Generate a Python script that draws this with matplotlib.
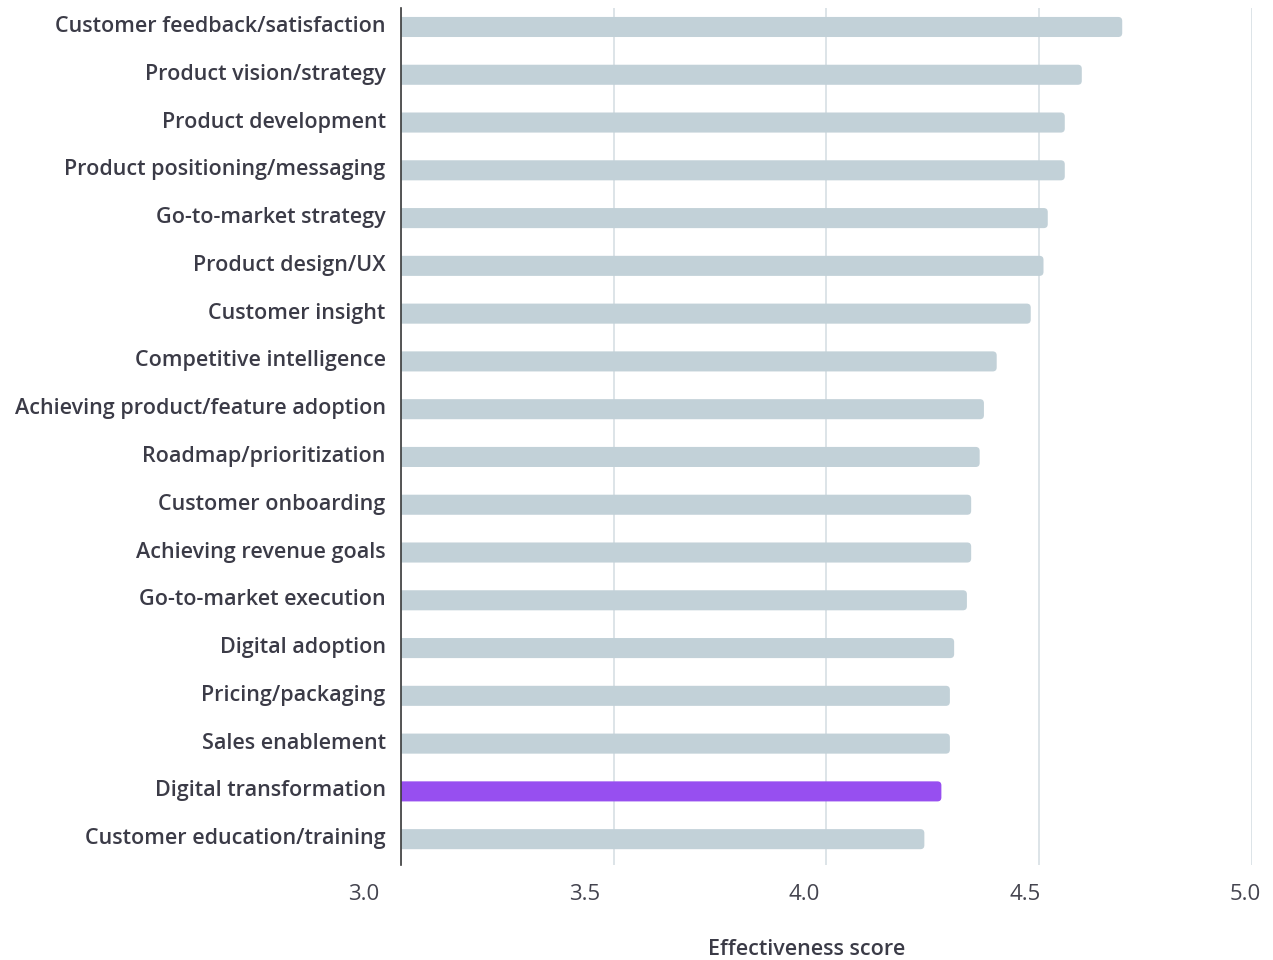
import matplotlib.pyplot as plt
from matplotlib.patches import FancyBboxPatch
from matplotlib.transforms import ScaledTranslation

categories = [
    "Customer feedback/satisfaction",
    "Product vision/strategy",
    "Product development",
    "Product positioning/messaging",
    "Go-to-market strategy",
    "Product design/UX",
    "Customer insight",
    "Competitive intelligence",
    "Achieving product/feature adoption",
    "Roadmap/prioritization",
    "Customer onboarding",
    "Achieving revenue goals",
    "Go-to-market execution",
    "Digital adoption",
    "Pricing/packaging",
    "Sales enablement",
    "Digital transformation",
    "Customer education/training",
]
scores = [4.695, 4.60, 4.56, 4.56, 4.52, 4.51, 4.48, 4.40, 4.37,
          4.36, 4.34, 4.34, 4.33, 4.30, 4.29, 4.29, 4.27, 4.23]
highlight = "Digital transformation"
ticks = [3.0, 3.5, 4.0, 4.5, 5.0]

GREY = "#c2d1d8"
PURPLE = "#974ff0"
TEXT = "#3b3b47"

plt.rcParams['font.family'] = ['Open Sans', 'DejaVu Sans']

fig = plt.figure(figsize=(12.73, 9.6), dpi=100)
ax = fig.add_axes([0.315, 0.099, 0.6685, 0.8928])

xmin, xmax = 3.0, 5.0
h = 0.42
ax.set_xlim(xmin, xmax)
ax.set_ylim(len(categories) - 0.46, -0.4)

# rounded bar ends: radius in x units, aspect converts to y units
r = 0.0094
aspect = 8.9
for i, (cat, val) in enumerate(zip(categories, scores)):
    col = PURPLE if cat == highlight else GREY
    p = FancyBboxPatch((xmin - 0.02, i - h / 2), val - xmin + 0.02, h,
                       boxstyle="round,pad=0,rounding_size=%f" % r,
                       mutation_aspect=aspect, fc=col, ec='none', zorder=2,
                       clip_on=True)
    ax.add_patch(p)

ax.set_yticks(range(len(categories)))
ax.set_yticklabels(categories, fontsize=15.5, fontweight='semibold', color=TEXT)
ax.tick_params(axis='y', length=0, pad=11)
for lbl in ax.get_yticklabels():
    lbl.set_transform(lbl.get_transform() + ScaledTranslation(0, 0.03, fig.dpi_scale_trans))

ax.set_xticks(ticks)
ax.set_xticklabels(["%.1f" % t for t in ticks], fontsize=16, color='#44444f')
ax.tick_params(axis='x', length=0, pad=14)
ax.grid(axis='x', color='#d3dce1', linewidth=1.1, zorder=0)
ax.set_axisbelow(True)

# tick labels drift left of their gridlines, more so toward 3.0
for lbl, t in zip(ax.get_xticklabels(), ticks):
    dx = (-37 + (t - xmin) * 15.1) / 100
    lbl.set_transform(lbl.get_transform() + ScaledTranslation(dx, 0, fig.dpi_scale_trans))

for s in ['top', 'right', 'bottom']:
    ax.spines[s].set_visible(False)
ax.spines['left'].set_color('#3a3a3a')
ax.spines['left'].set_linewidth(1.2)
ax.spines['left'].set_zorder(3)

ax.set_xlabel("Effectiveness score", fontsize=15.5, fontweight='semibold',
              color=TEXT)
ax.xaxis.set_label_coords(0.477, -0.086)

fig.savefig("out.png", dpi=100)
